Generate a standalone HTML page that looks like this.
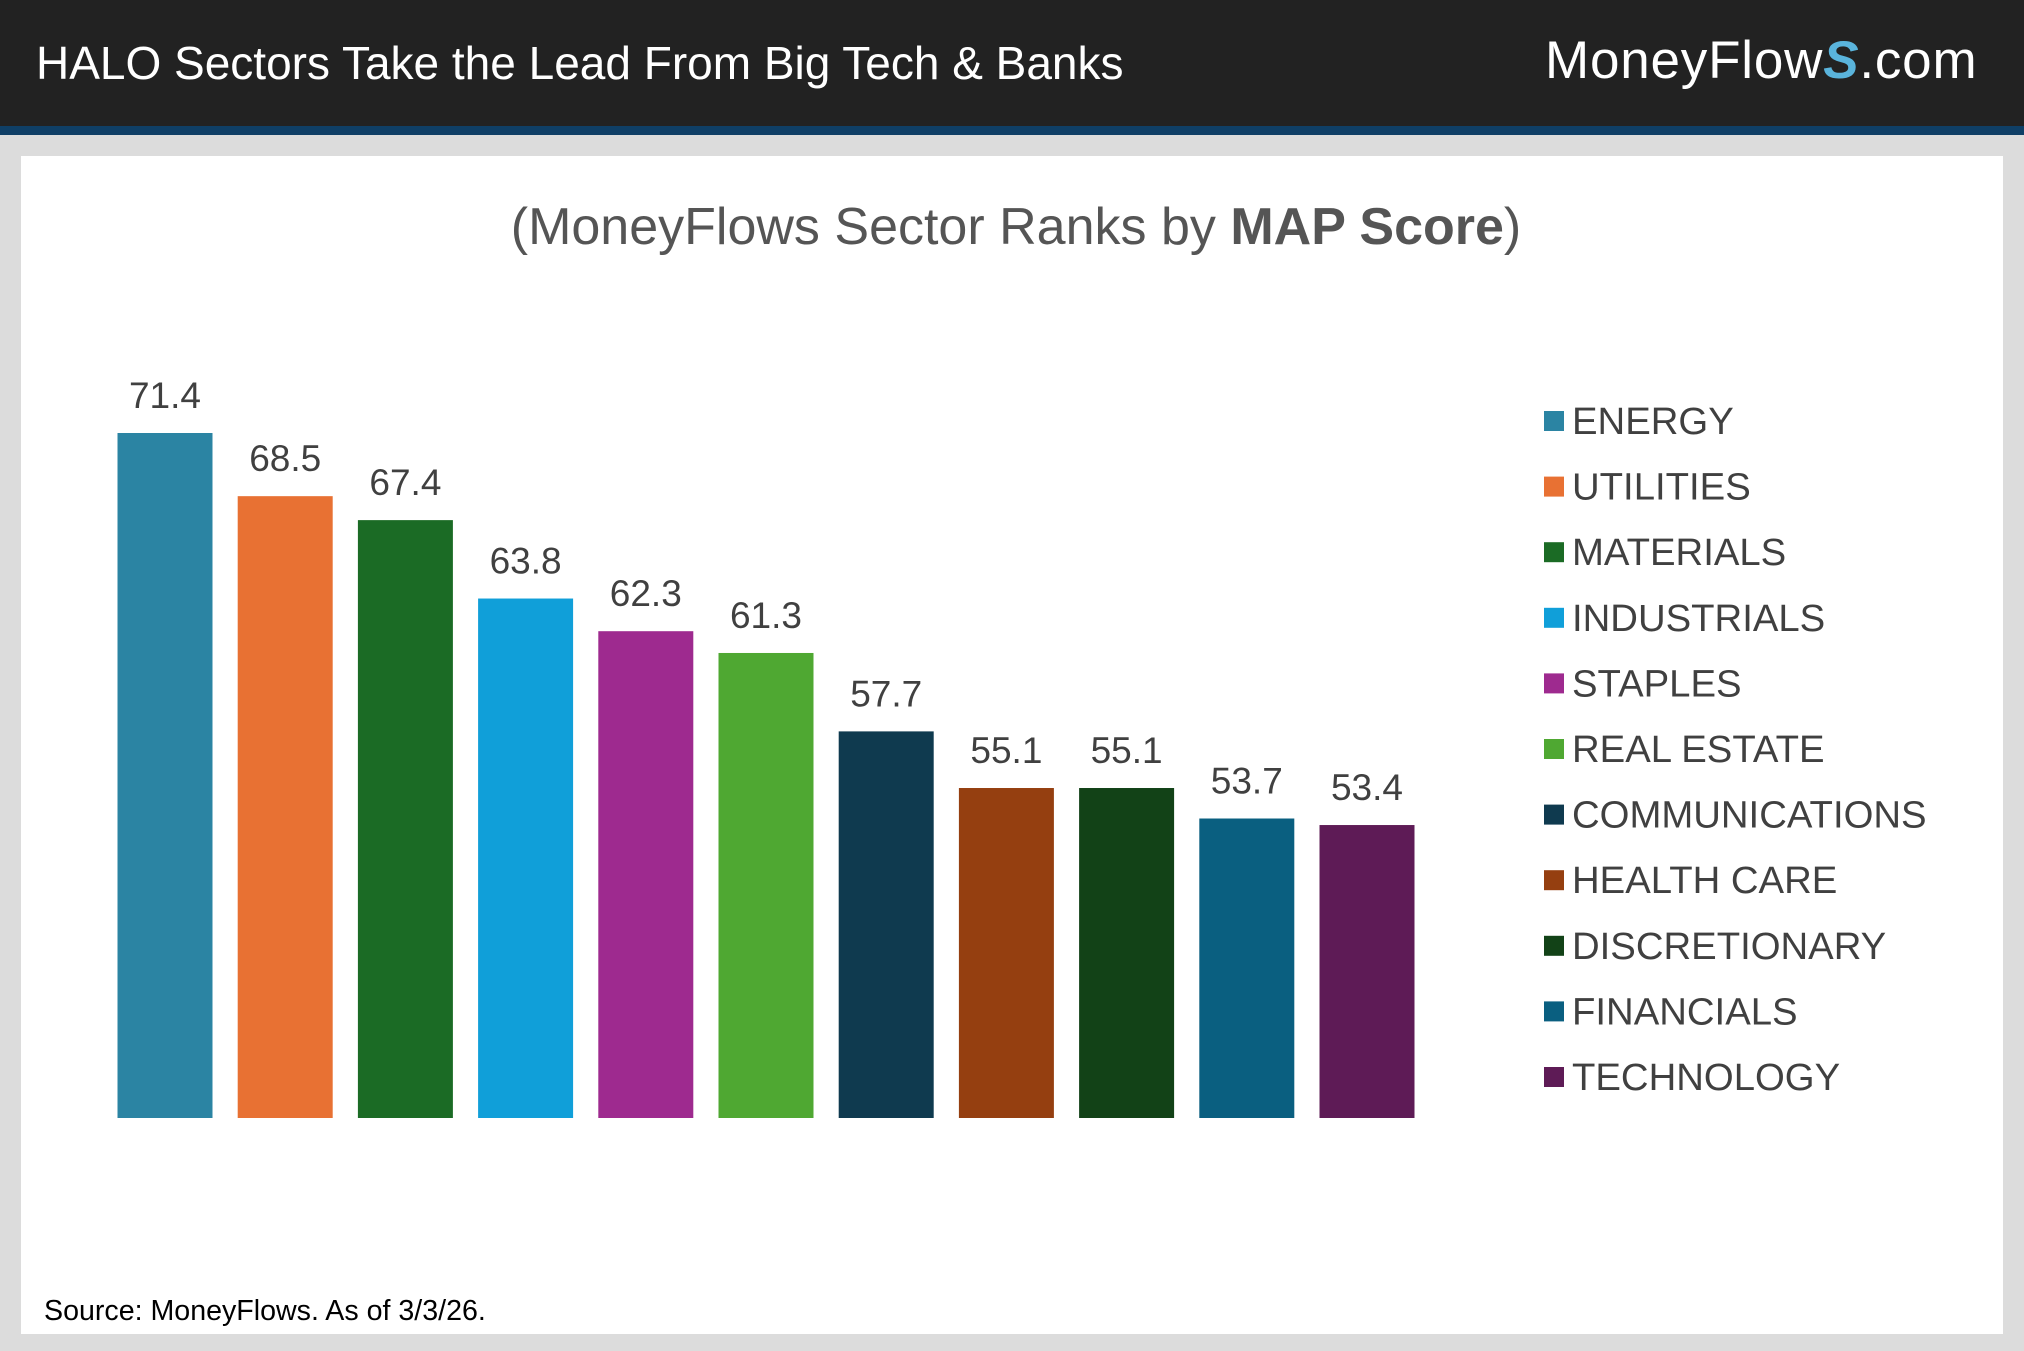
<!DOCTYPE html>
<html><head><meta charset="utf-8"><style>
body{margin:0;width:2024px;height:1351px;background:#dcdcdc;position:relative;overflow:hidden;font-family:"Liberation Sans",sans-serif}
.hdr{position:absolute;left:0;top:0;width:2024px;height:126px;background:#222}
.strip{position:absolute;left:0;top:126px;width:2024px;height:9px;background:#0f3f66}
.panel{position:absolute;left:21px;top:156px;width:1982px;height:1178px;background:#fff}
.t{position:absolute;white-space:nowrap}
</style></head><body>
<div class="hdr"></div><div class="strip"></div>
<div class="t" style="left:36px;top:36px;font-size:46px;color:#fff">HALO Sectors Take the Lead From Big Tech &amp; Banks</div>
<div class="t" style="left:1545px;top:30px;font-size:53px;color:#fff;letter-spacing:0.8px">MoneyFlow<span style="color:#5ab4dc;font-style:italic;font-weight:bold">S</span>.com</div>
<div class="panel"></div>
<div class="t" style="left:0;width:2032px;text-align:center;top:197px;font-size:52px;color:#555">(MoneyFlows Sector Ranks by <b>MAP Score</b>)</div>
<svg style="position:absolute;left:0;top:0" width="2024" height="1351">
<g font-family="Liberation Sans, sans-serif" font-size="37" fill="#404040" text-anchor="middle" id="bars"></g>
<g font-family="Liberation Sans, sans-serif" font-size="38.3" fill="#404040" id="leg"></g>
</svg>
<div class="t" style="left:44px;top:1295px;font-size:28.6px;color:#000">Source: MoneyFlows. As of 3/3/26.</div>
<script>
var d=[["ENERGY",71.4,"#2b84a3"],["UTILITIES",68.5,"#e87133"],["MATERIALS",67.4,"#1b6b25"],["INDUSTRIALS",63.8,"#109fd9"],["STAPLES",62.3,"#9e2a8f"],["REAL ESTATE",61.3,"#4fa832"],["COMMUNICATIONS",57.7,"#0f3a4f"],["HEALTH CARE",55.1,"#953f10"],["DISCRETIONARY",55.1,"#124217"],["FINANCIALS",53.7,"#0a5f80"],["TECHNOLOGY",53.4,"#5e1b56"]];
var b='',l='';
d.forEach(function(r,i){var x=117.5+i*120.2,top=433+(71.4-r[1])*21.78;
b+='<rect x="'+x+'" y="'+top+'" width="95" height="'+(1118-top)+'" fill="'+r[2]+'"/>';
b+='<text x="'+(x+47.5)+'" y="'+(top-25)+'">'+r[1].toFixed(1)+'</text>';
var y=421+i*65.6;
l+='<rect x="1544" y="'+(y-10)+'" width="20" height="20" fill="'+r[2]+'"/>';
l+='<text x="1572" y="'+(y+13)+'">'+r[0]+'</text>';});
document.getElementById('bars').innerHTML=b;document.getElementById('leg').innerHTML=l;
</script>
</body></html>
